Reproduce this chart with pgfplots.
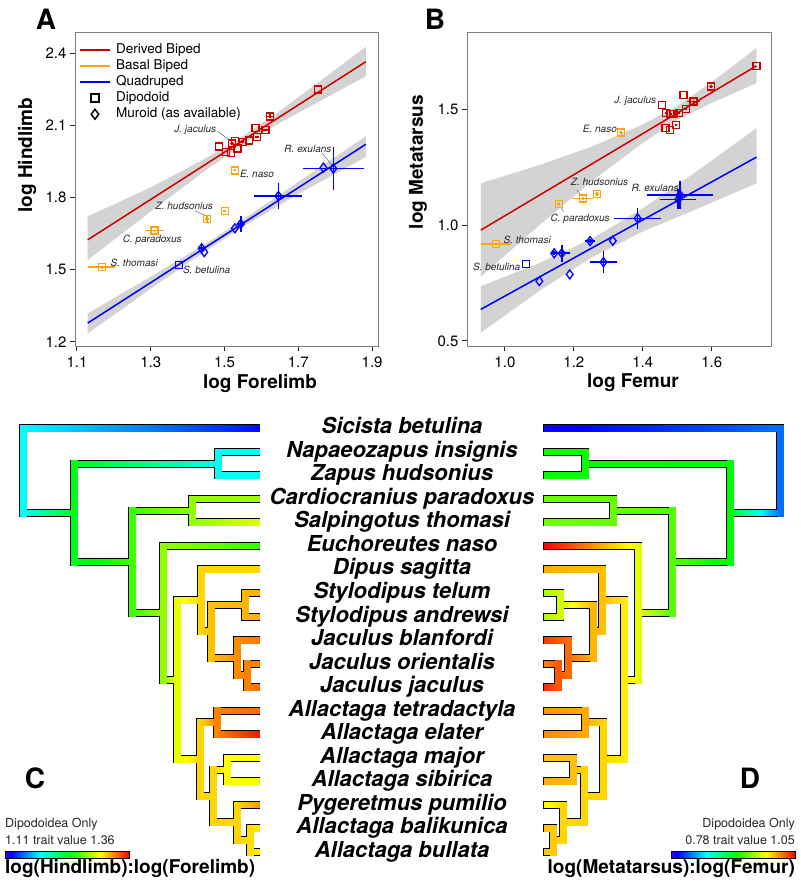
\documentclass[border=0pt]{standalone}
\usepackage{fontspec}
\setmainfont{TeX Gyre Heros}
\usepackage{pgfplots}
\pgfplotsset{compat=1.18}
\definecolor{dred}{RGB}{205,0,0}
\definecolor{morange}{RGB}{255,165,0}
\definecolor{mblue}{RGB}{0,0,255}
\definecolor{band}{RGB}{211,211,211}
\pgfplotsset{colormap={rb}{rgb255(0cm)=(51,0,255) rgb255(0.476cm)=(0,0,255) rgb255(2.857cm)=(0,255,255) rgb255(5.238cm)=(0,255,0) rgb255(7.619cm)=(255,255,0) rgb255(10cm)=(255,0,0)}}
\pgfplotsset{
 mypanel/.style={scale only axis, tick align=outside, xtick pos=bottom, ytick pos=left,
   axis line style={draw=gray}, major tick length=5pt, tick style={black!85, line width=1pt},
   ticklabel style={font=\fontsize{15}{15}\selectfont},
   /pgf/number format/assume math mode=true, /pgf/number format/fixed,
   /pgf/number format/fixed zerofill, /pgf/number format/precision=1,
   label style={font=\fontsize{19}{19}\selectfont\bfseries},
   xticklabel style={yshift=-2pt}},
 pt/.style={only marks, line width=1.3pt, forget plot,
   error bars/x dir=both, error bars/x explicit, error bars/y dir=both, error bars/y explicit,
   error bars/error mark=none},
 sq/.style={mark=square, mark size=3.5pt},
 dm/.style={mark=diamond, mark size=4.5pt},
 lead/.style={forget plot, line width=0.4pt, black!70},
 lineleg/.style={legend image code/.code={\draw[##1, line width=1.5pt] (0pt,0pt) -- (30pt,0pt);}},
 markleg/.style={legend image code/.code={\draw[##1] plot coordinates {(15pt,0pt)};}},
}
\tikzset{anno/.style={font=\fontsize{10}{10}\selectfont\itshape, inner sep=0.5pt, text=black!85}}

\newif\ifoutline
\newcommand\HB[5]{%
  \ifoutline
    \pgfmathsetmacro\tXb{#2+2*(#2>#1)-1}%
    \pgfmathsetmacro\tYa{#3-4}\pgfmathsetmacro\tYb{#3+4}%
    \edef\tmp{\noexpand\addplot[fill=black,draw=none,forget plot] coordinates {(#1,\tYa) (\tXb,\tYa) (\tXb,\tYb) (#1,\tYb)};}\tmp
  \else
    \pgfmathsetmacro\tYa{#3-3}\pgfmathsetmacro\tYb{#3+3}%
    \edef\tmp{\noexpand\addplot[patch,patch type=rectangle,shader=interp,point meta=explicit,forget plot] coordinates {(#1,\tYa) [#4] (#2,\tYa) [#5] (#2,\tYb) [#5] (#1,\tYb) [#4]};}\tmp
  \fi}
\newcommand\VB[4]{%
  \ifoutline
    \pgfmathsetmacro\tXa{#1-4}\pgfmathsetmacro\tXb{#1+4}\pgfmathsetmacro\tYa{#2-4}\pgfmathsetmacro\tYb{#3+4}%
    \edef\tmp{\noexpand\addplot[fill=black,draw=none,forget plot] coordinates {(\tXa,\tYa) (\tXb,\tYa) (\tXb,\tYb) (\tXa,\tYb)};}\tmp
  \else
    \pgfmathsetmacro\tXa{#1-3}\pgfmathsetmacro\tXb{#1+3}\pgfmathsetmacro\tYa{#2-3}\pgfmathsetmacro\tYb{#3+3}%
    \edef\tmp{\noexpand\addplot[patch,patch type=rectangle,shader=flat,point meta=explicit,forget plot] coordinates {(\tXa,\tYa) [#4] (\tXb,\tYa) [#4] (\tXb,\tYb) [#4] (\tXa,\tYb) [#4]};}\tmp
  \fi}

\newcommand\treeC{%
\VB{23}{428.2}{512.7}{0.29}
\HB{23}{259}{428.2}{0.28}{0.06}
\HB{23}{74}{512.7}{0.29}{0.5}
\VB{74}{463.5}{561.8}{0.5}
\HB{74}{218}{463.5}{0.5}{0.3}
\VB{218}{451.7}{475.3}{0.3}
\HB{218}{259}{451.7}{0.3}{0.29}
\HB{218}{259}{475.3}{0.3}{0.3}
\HB{74}{132}{561.8}{0.5}{0.58}
\VB{132}{510.6}{612.9}{0.58}
\HB{132}{192}{510.6}{0.58}{0.66}
\VB{192}{498.8}{522.3}{0.66}
\HB{192}{259}{498.8}{0.66}{0.67}
\HB{192}{259}{522.3}{0.66}{0.73}
\HB{132}{163}{612.9}{0.58}{0.66}
\VB{163}{545.9}{679.8}{0.66}
\HB{163}{259}{545.9}{0.66}{0.57}
\HB{163}{177}{679.8}{0.66}{0.74}
\VB{177}{600.3}{759.2}{0.74}
\HB{177}{201}{600.3}{0.74}{0.8}
\VB{201}{569.4}{631.2}{0.8}
\HB{201}{259}{569.4}{0.8}{0.8}
\HB{201}{211}{631.2}{0.8}{0.82}
\VB{211}{604.7}{657.7}{0.82}
\HB{211}{245}{604.7}{0.82}{0.83}
\VB{245}{592.9}{616.5}{0.83}
\HB{245}{259}{592.9}{0.83}{0.84}
\HB{245}{259}{616.5}{0.83}{0.84}
\HB{211}{237}{657.7}{0.82}{0.87}
\VB{237}{640.0}{675.3}{0.87}
\HB{237}{259}{640.0}{0.87}{0.89}
\HB{237}{247}{675.3}{0.87}{0.88}
\VB{247}{663.5}{687.1}{0.88}
\HB{247}{259}{663.5}{0.88}{0.88}
\HB{247}{259}{687.1}{0.88}{0.9}
\HB{177}{200}{759.2}{0.74}{0.8}
\VB{200}{722.4}{796.0}{0.8}
\HB{200}{217}{722.4}{0.8}{0.88}
\VB{217}{710.6}{734.1}{0.88}
\HB{217}{259}{710.6}{0.88}{0.9}
\HB{217}{259}{734.1}{0.88}{0.98}
\HB{200}{213}{796.0}{0.8}{0.8}
\VB{213}{769.5}{822.4}{0.8}
\HB{213}{227}{769.5}{0.8}{0.76}
\VB{227}{757.7}{781.2}{0.76}
\HB{227}{259}{757.7}{0.76}{0.76}
\HB{227}{259}{781.2}{0.76}{0.75}
\HB{213}{237}{822.4}{0.8}{0.8}
\VB{237}{804.7}{840.1}{0.8}
\HB{237}{259}{804.7}{0.8}{0.86}
\HB{237}{250}{840.1}{0.8}{0.79}
\VB{250}{828.3}{851.8}{0.79}
\HB{250}{259}{828.3}{0.79}{0.78}
\HB{250}{259}{851.8}{0.79}{0.78}
}
\newcommand\treeD{%
\VB{780}{428.2}{512.7}{0.15}
\HB{780}{544}{428.2}{0.15}{0.03}
\HB{780}{730}{512.7}{0.15}{0.5}
\VB{730}{463.5}{561.8}{0.52}
\HB{730}{585}{463.5}{0.52}{0.53}
\VB{585}{451.7}{475.3}{0.53}
\HB{585}{544}{451.7}{0.53}{0.54}
\HB{585}{544}{475.3}{0.53}{0.53}
\HB{730}{672}{561.8}{0.52}{0.6}
\VB{672}{510.6}{612.9}{0.6}
\HB{672}{613}{510.6}{0.6}{0.62}
\VB{613}{498.8}{522.3}{0.62}
\HB{613}{544}{498.8}{0.62}{0.62}
\HB{613}{544}{522.3}{0.62}{0.63}
\HB{672}{638}{612.9}{0.6}{0.74}
\VB{638}{545.9}{679.8}{0.74}
\HB{638}{544}{545.9}{0.74}{1.0}
\HB{638}{624}{679.8}{0.74}{0.78}
\VB{624}{600.3}{759.2}{0.78}
\HB{624}{602}{600.3}{0.78}{0.82}
\VB{602}{569.4}{631.2}{0.82}
\HB{602}{544}{569.4}{0.82}{0.84}
\HB{602}{593}{631.2}{0.82}{0.83}
\VB{593}{604.7}{657.7}{0.83}
\HB{593}{560}{604.7}{0.83}{0.72}
\VB{560}{592.9}{616.5}{0.72}
\HB{560}{544}{592.9}{0.72}{0.68}
\HB{560}{544}{616.5}{0.72}{0.68}
\HB{593}{568}{657.7}{0.83}{0.9}
\VB{568}{640.0}{675.3}{0.9}
\HB{568}{544}{640.0}{0.9}{0.95}
\HB{568}{558}{675.3}{0.9}{0.92}
\VB{558}{663.5}{687.1}{0.92}
\HB{558}{544}{663.5}{0.92}{0.88}
\HB{558}{544}{687.1}{0.92}{0.96}
\HB{624}{603}{759.2}{0.78}{0.8}
\VB{603}{722.4}{796.0}{0.8}
\HB{603}{585}{722.4}{0.8}{0.84}
\VB{585}{710.6}{734.1}{0.84}
\HB{585}{544}{710.6}{0.84}{0.86}
\HB{585}{544}{734.1}{0.84}{0.87}
\HB{603}{584}{796.0}{0.8}{0.8}
\VB{584}{769.5}{822.4}{0.8}
\HB{584}{573}{769.5}{0.8}{0.82}
\VB{573}{757.7}{781.2}{0.82}
\HB{573}{544}{757.7}{0.82}{0.82}
\HB{573}{544}{781.2}{0.82}{0.84}
\HB{584}{563}{822.4}{0.8}{0.8}
\VB{563}{804.7}{840.1}{0.8}
\HB{563}{544}{804.7}{0.8}{0.75}
\HB{563}{553}{840.1}{0.8}{0.81}
\VB{553}{828.3}{851.8}{0.81}
\HB{553}{544}{828.3}{0.81}{0.82}
\HB{553}{544}{851.8}{0.81}{0.81}
}
\newcommand\spname[2]{\node[font=\fontsize{22}{22}\selectfont\bfseries\itshape, anchor=base, inner sep=0pt] at (axis cs:402,#1) {#2};}

\begin{document}
\begin{tikzpicture}
% ---------------- Panel A ----------------
\begin{axis}[mypanel, at={(75pt,539pt)}, anchor=south west, width=303pt, height=314pt,
 xmin=1.0946, xmax=1.916, ymin=1.183, ymax=2.4875,
 xtick={1.1,1.3,1.5,1.7,1.9}, ytick={1.2,1.5,1.8,2.1,2.4},
 xlabel={log Forelimb}, ylabel={log Hindlimb},
 xlabel style={at={(axis description cs:0.6106,-0.118)}, anchor=center},
 ylabel style={at={(axis description cs:-0.158,0.608)}, anchor=center},
 legend style={at={(axis description cs:0.0132,0.968)}, anchor=north west, draw=none, fill=none,
   inner sep=0pt, font=\fontsize{13.5}{13.5}\selectfont,
   nodes={inner sep=1.5pt, text height=10pt, text depth=3pt}, row sep=0pt,
   /tikz/every odd column/.append style={column sep=4pt}},
 legend cell align=left,
 lineleg,
]
\addlegendimage{dred}\addlegendentry{Derived Biped}
\addlegendimage{morange}\addlegendentry{Basal Biped}
\addlegendimage{mblue}\addlegendentry{Quadruped}
\addlegendimage{black, mark=square, mark size=4pt, line width=1.5pt, markleg}\addlegendentry{Dipodoid}
\addlegendimage{black, mark=diamond, mark size=5pt, line width=1.5pt, markleg}\addlegendentry{Muroid (as available)}

\addplot[fill=band, draw=none, forget plot] coordinates {(1.129,1.721) (1.3,1.842) (1.45,1.964) (1.55,2.055) (1.65,2.160) (1.75,2.273) (1.883,2.426) (1.883,2.304) (1.75,2.193) (1.65,2.110) (1.55,2.019) (1.45,1.914) (1.3,1.742) (1.129,1.540)};
\addplot[fill=band, draw=none, forget plot] coordinates {(1.129,1.318) (1.3,1.471) (1.45,1.609) (1.55,1.708) (1.7,1.865) (1.883,2.054) (1.883,1.968) (1.7,1.815) (1.55,1.678) (1.45,1.579) (1.3,1.421) (1.129,1.235)};
\addplot[dred, line width=1.5pt, forget plot] coordinates {(1.129,1.624) (1.883,2.364)};
\addplot[mblue, line width=1.5pt, forget plot] coordinates {(1.129,1.278) (1.883,2.021)};

\addplot[pt, sq, dred, error bars/error bar style={dred, line width=1.6pt}] coordinates {
(1.754,2.249) +- (0,0)
(1.623,2.137) +- (0.008,0.008)
(1.611,2.080) +- (0.006,0)
(1.584,2.088) +- (0,0)
(1.588,2.051) +- (0.005,0.005)
(1.567,2.037) +- (0,0)
(1.549,2.030) +- (0.005,0.005)
(1.528,2.035) +- (0,0)
(1.521,2.024) +- (0.005,0.006)
(1.535,2.003) +- (0,0)
(1.485,2.012) +- (0,0)
(1.503,1.989) +- (0,0)
(1.517,1.986) +- (0,0)
};
\addplot[pt, sq, morange, error bars/error bar style={morange, line width=1.6pt}] coordinates {
(1.528,1.9125) +- (0.004,0.004)
(1.452,1.711) +- (0.006,0.012)
(1.501,1.743) +- (0.004,0)
(1.310,1.6625) +- (0.025,0.004)
(1.167,1.510) +- (0.036,0.006)
};
\addplot[pt, sq, mblue] coordinates {(1.377,1.519) +- (0,0)};
\addplot[pt, dm, mblue, error bars/error bar style={mblue, line width=1.6pt}] coordinates {
(1.445,1.573) +- (0,0)
(1.438,1.589) +- (0.008,0.012)
(1.528,1.672) +- (0,0)
(1.544,1.690) +- (0.01,0.033)
(1.646,1.806) +- (0.065,0.055)
(1.768,1.924) +- (0,0)
(1.795,1.920) +- (0.083,0.09)
};
\node[anno, anchor=east] at (axis cs:1.479,2.079) {J. jaculus};
\addplot[lead] coordinates {(1.481,2.075) (1.518,2.033)};
\node[anno, anchor=west] at (axis cs:1.540,1.899) {E. naso};
\node[anno] at (axis cs:1.726,2.003) {R. exulans};
\addplot[lead] coordinates {(1.764,1.985) (1.792,1.932)};
\node[anno] at (axis cs:1.391,1.764) {Z. hudsonius};
\addplot[lead] coordinates {(1.420,1.745) (1.447,1.726)};
\node[anno] at (axis cs:1.304,1.625) {C. paradoxus};
\node[anno, anchor=west] at (axis cs:1.1895,1.528) {S. thomasi};
\node[anno, anchor=west] at (axis cs:1.3856,1.500) {S. betulina};
\end{axis}

% ---------------- Panel B ----------------
\begin{axis}[mypanel, at={(467pt,539pt)}, anchor=south west, width=304pt, height=314pt,
 xmin=0.890, xmax=1.772, ymin=0.478, ymax=1.833,
 xtick={1.0,1.2,1.4,1.6}, ytick={0.5,1.0,1.5},
 xlabel={log Femur}, ylabel={log Metatarsus},
 xlabel style={at={(axis description cs:0.546,-0.118)}, anchor=center},
 ylabel style={at={(axis description cs:-0.161,0.586)}, anchor=center},
]
\addplot[fill=band, draw=none, forget plot] coordinates {(0.93,1.180) (1.1,1.259) (1.25,1.337) (1.4,1.434) (1.5,1.513) (1.6,1.617) (1.73,1.764) (1.73,1.612) (1.6,1.527) (1.5,1.453) (1.4,1.354) (1.25,1.187) (1.1,0.999) (0.93,0.777)};
\addplot[fill=band, draw=none, forget plot] coordinates {(0.93,0.736) (1.1,0.836) (1.25,0.939) (1.4,1.072) (1.55,1.225) (1.73,1.418) (1.73,1.180) (1.55,1.065) (1.4,0.972) (1.25,0.859) (1.1,0.716) (0.93,0.535)};
\addplot[dred, line width=1.5pt, forget plot] coordinates {(0.93,0.978) (1.73,1.687)};
\addplot[mblue, line width=1.5pt, forget plot] coordinates {(0.93,0.636) (1.73,1.293)};

\addplot[pt, sq, dred, error bars/error bar style={dred, line width=1.6pt}] coordinates {
(1.730,1.687) +- (0,0)
(1.598,1.598) +- (0.007,0.008)
(1.547,1.533) +- (0.02,0.005)
(1.518,1.562) +- (0,0)
(1.455,1.519) +- (0,0)
(1.468,1.483) +- (0.004,0)
(1.480,1.480) +- (0.004,0)
(1.489,1.480) +- (0,0)
(1.505,1.483) +- (0.004,0.004)
(1.525,1.500) +- (0.004,0.004)
(1.466,1.418) +- (0,0)
(1.478,1.411) +- (0,0)
(1.497,1.432) +- (0,0.004)
};
\addplot[pt, sq, morange, error bars/error bar style={morange, line width=1.6pt}] coordinates {
(1.337,1.399) +- (0.006,0.008)
(1.267,1.133) +- (0.006,0.008)
(1.226,1.115) +- (0.03,0.006)
(1.156,1.091) +- (0.005,0.007)
(0.974,0.917) +- (0.043,0.005)
};
\addplot[pt, sq, mblue] coordinates {(1.061,0.833) +- (0,0)};
\addplot[pt, dm, mblue, error bars/error bar style={mblue, line width=1.6pt}] coordinates {
(1.100,0.758) +- (0,0)
(1.188,0.787) +- (0,0)
(1.313,0.932) +- (0,0)
(1.143,0.878) +- (0.008,0.008)
(1.165,0.878) +- (0.024,0.036)
(1.247,0.931) +- (0.015,0.01)
(1.286,0.840) +- (0.038,0.047)
(1.385,1.029) +- (0.069,0.045)
(1.503,1.111) +- (0.052,0.044)
(1.508,1.130) +- (0.097,0.061)
};
\node[anno, anchor=east] at (axis cs:1.4406,1.5346) {J. jaculus};
\node[anno, anchor=east] at (axis cs:1.3267,1.4136) {E. naso};
\node[anno] at (axis cs:1.2745,1.1845) {Z. hudsonius};
\addplot[lead] coordinates {(1.2087,1.1513) (1.2232,1.1254)};
\node[anno] at (axis cs:1.2183,1.0259) {C. paradoxus};
\addplot[lead] coordinates {(1.170,1.0575) (1.163,1.0748)};
\node[anno] at (axis cs:1.4357,1.1586) {R. exulans};
\node[anno, anchor=west] at (axis cs:0.9942,0.9352) {S. thomasi};
\node[anno, anchor=east] at (axis cs:1.0464,0.8198) {S. betulina};
\end{axis}

% ---------------- Overlay: trees, names, colour bars ----------------
\begin{axis}[at={(0pt,0pt)}, anchor=south west, width=800pt, height=885pt, scale only axis,
 xmin=0, xmax=800, ymin=0, ymax=885, y dir=reverse, hide axis, clip=false,
 colormap name=rb, point meta min=0, point meta max=1]
\addplot[draw=none, forget plot] coordinates {(0,0) (800,885)};
\outlinetrue \treeC \treeD
\outlinefalse \treeC \treeD
% colour bars
\addplot[patch,patch type=rectangle,shader=interp,point meta=explicit,forget plot] coordinates {(5,851)[0] (10.9,851)[0.0476] (10.9,858)[0.0476] (5,858)[0]};
\addplot[patch,patch type=rectangle,shader=interp,point meta=explicit,forget plot] coordinates {(10.9,851)[0.0476] (40.4,851)[0.2857] (40.4,858)[0.2857] (10.9,858)[0.0476]};
\addplot[patch,patch type=rectangle,shader=interp,point meta=explicit,forget plot] coordinates {(40.4,851)[0.2857] (69.95,851)[0.5238] (69.95,858)[0.5238] (40.4,858)[0.2857]};
\addplot[patch,patch type=rectangle,shader=interp,point meta=explicit,forget plot] coordinates {(69.95,851)[0.5238] (99.5,851)[0.7619] (99.5,858)[0.7619] (69.95,858)[0.5238]};
\addplot[patch,patch type=rectangle,shader=interp,point meta=explicit,forget plot] coordinates {(99.5,851)[0.7619] (129,851)[1] (129,858)[1] (99.5,858)[0.7619]};
\addplot[black, line width=0.8pt, forget plot] coordinates {(5,851) (129,851) (129,858) (5,858) (5,851)};
\addplot[patch,patch type=rectangle,shader=interp,point meta=explicit,forget plot] coordinates {(671,851)[0] (676.9,851)[0.0476] (676.9,858)[0.0476] (671,858)[0]};
\addplot[patch,patch type=rectangle,shader=interp,point meta=explicit,forget plot] coordinates {(676.9,851)[0.0476] (706.4,851)[0.2857] (706.4,858)[0.2857] (676.9,858)[0.0476]};
\addplot[patch,patch type=rectangle,shader=interp,point meta=explicit,forget plot] coordinates {(706.4,851)[0.2857] (735.95,851)[0.5238] (735.95,858)[0.5238] (706.4,858)[0.2857]};
\addplot[patch,patch type=rectangle,shader=interp,point meta=explicit,forget plot] coordinates {(735.95,851)[0.5238] (765.5,851)[0.7619] (765.5,858)[0.7619] (735.95,858)[0.5238]};
\addplot[patch,patch type=rectangle,shader=interp,point meta=explicit,forget plot] coordinates {(765.5,851)[0.7619] (795,851)[1] (795,858)[1] (765.5,858)[0.7619]};
\addplot[black, line width=0.8pt, forget plot] coordinates {(671,851) (795,851) (795,858) (671,858) (671,851)};

\spname{433.7}{Sicista betulina}
\spname{457.2}{Napaeozapus insignis}
\spname{480.8}{Zapus hudsonius}
\spname{504.3}{Cardiocranius paradoxus}
\spname{527.8}{Salpingotus thomasi}
\spname{551.4}{Euchoreutes naso}
\spname{574.9}{Dipus sagitta}
\spname{598.4}{Stylodipus telum}
\spname{622.0}{Stylodipus andrewsi}
\spname{645.5}{Jaculus blanfordi}
\spname{669.0}{Jaculus orientalis}
\spname{692.6}{Jaculus jaculus}
\spname{716.1}{Allactaga tetradactyla}
\spname{739.6}{Allactaga elater}
\spname{763.2}{Allactaga major}
\spname{786.7}{Allactaga sibirica}
\spname{810.2}{Pygeretmus pumilio}
\spname{833.8}{Allactaga balikunica}
\spname{857.3}{Allactaga bullata}

\node[font=\fontsize{28}{28}\selectfont\bfseries] at (axis cs:46,19.5) {A};
\node[font=\fontsize{28}{28}\selectfont\bfseries] at (axis cs:435,19.5) {B};
\node[font=\fontsize{28}{28}\selectfont\bfseries] at (axis cs:35,778) {C};
\node[font=\fontsize{28}{28}\selectfont\bfseries] at (axis cs:750,778) {D};

\node[font=\fontsize{12.5}{12.5}\selectfont, anchor=west, inner sep=0pt, text=black!85] at (axis cs:5,824.3) {Dipodoidea Only};
\node[font=\fontsize{12.5}{12.5}\selectfont, anchor=west, inner sep=0pt, text=black!85] at (axis cs:5,840) {1.11 trait value 1.36};
\node[font=\fontsize{19}{19}\selectfont\bfseries, anchor=base west, inner sep=0pt] at (axis cs:5,873) {log(Hindlimb):log(Forelimb)};
\node[font=\fontsize{12.5}{12.5}\selectfont, anchor=east, inner sep=0pt, text=black!85] at (axis cs:795,824.3) {Dipodoidea Only};
\node[font=\fontsize{12.5}{12.5}\selectfont, anchor=east, inner sep=0pt, text=black!85] at (axis cs:795,840) {0.78 trait value 1.05};
\node[font=\fontsize{19}{19}\selectfont\bfseries, anchor=base east, inner sep=0pt] at (axis cs:795,873) {log(Metatarsus):log(Femur)};
\end{axis}
\end{tikzpicture}
\end{document}
